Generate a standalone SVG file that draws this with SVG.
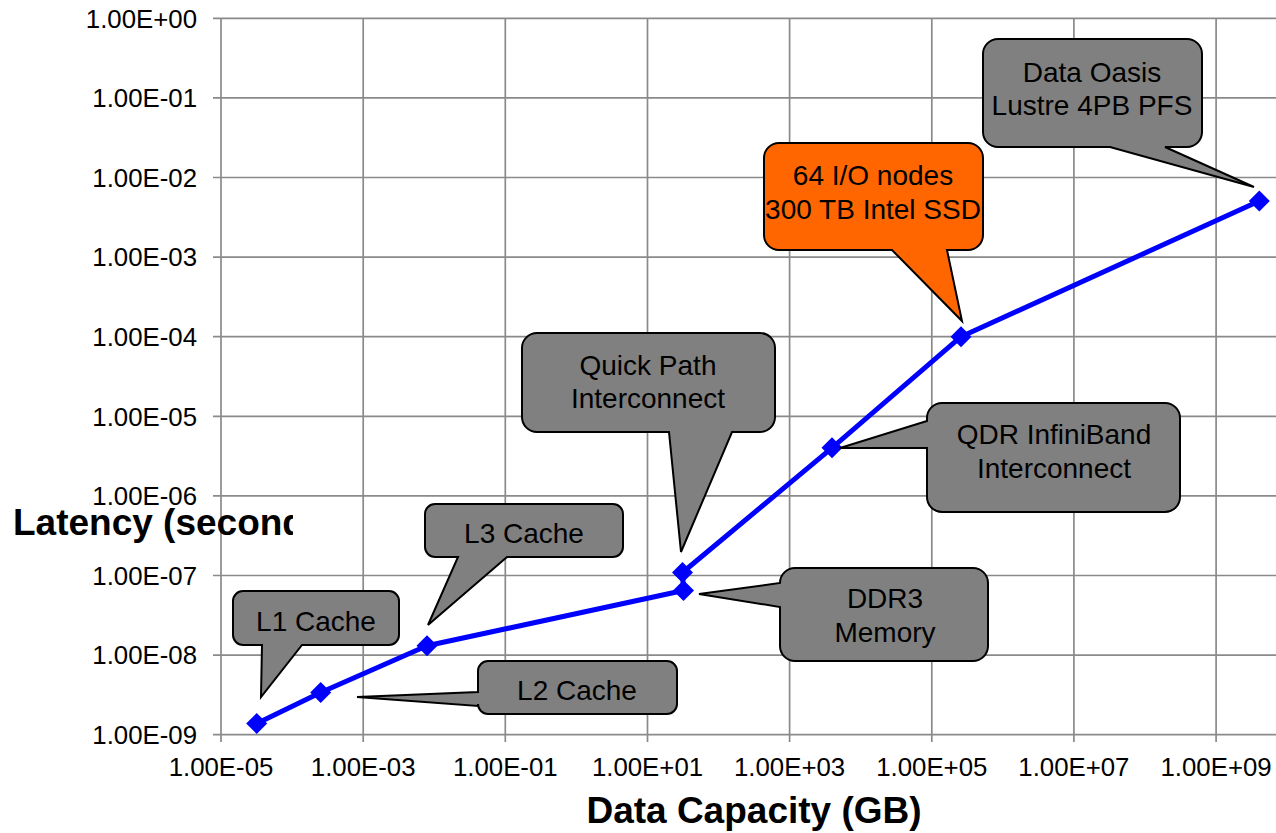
<svg xmlns="http://www.w3.org/2000/svg" width="1276" height="833" viewBox="0 0 1276 833">
  <style>
    .grid { stroke: #8a8a8a; stroke-width: 1.7; fill: none; }
    .tick { font-family: "Liberation Sans", Arial, sans-serif; font-size: 25.8px; fill: #000; }
    .title { font-family: "Liberation Sans", Arial, sans-serif; font-size: 37px; font-weight: bold; fill: #000; }
    .series { stroke: #0000ff; stroke-width: 5; fill: none; stroke-linejoin: round; }
    .callout { fill: #808080; stroke: #000; stroke-width: 2; stroke-linejoin: miter; }
    .callout.hot { fill: #ff6600; }
    .label { font-family: "Liberation Sans", Arial, sans-serif; font-size: 28px; fill: #000; text-anchor: middle; }
  </style>
  <defs>
    <clipPath id="ytitle-clip"><rect x="0" y="480" width="293" height="80"/></clipPath>
    <path id="diamond" d="M0,-10.5 L10.5,0 L0,10.5 L-10.5,0 Z" fill="#0000ff"/>
  </defs>
  <rect width="1276" height="833" fill="#ffffff"/>

  <!-- grid, axes and ticks -->
  <g id="grid">
    <path class="grid" d="M213,18.3 H1276 M213,97.9 H1276 M213,177.5 H1276 M213,257.1 H1276 M213,336.7 H1276 M213,416.3 H1276 M213,495.9 H1276 M213,575.5 H1276 M213,655.1 H1276 M213,734.7 H1276"/>
    <path class="grid" d="M221,18.3 V742 M363.2,18.3 V742 M505.3,18.3 V742 M647.5,18.3 V742 M789.6,18.3 V742 M931.8,18.3 V742 M1073.9,18.3 V742 M1216.1,18.3 V742"/>
  </g>

  <g id="y-axis-labels" class="tick" text-anchor="end">
    <text x="197" y="27.6">1.00E+00</text>
    <text x="197" y="107.2">1.00E-01</text>
    <text x="197" y="186.8">1.00E-02</text>
    <text x="197" y="266.4">1.00E-03</text>
    <text x="197" y="346">1.00E-04</text>
    <text x="197" y="425.6">1.00E-05</text>
    <text x="197" y="505.2">1.00E-06</text>
    <text x="197" y="584.8">1.00E-07</text>
    <text x="197" y="664.4">1.00E-08</text>
    <text x="197" y="744">1.00E-09</text>
  </g>

  <g id="x-axis-labels" class="tick" text-anchor="middle">
    <text x="221" y="776">1.00E-05</text>
    <text x="363.2" y="776">1.00E-03</text>
    <text x="505.3" y="776">1.00E-01</text>
    <text x="647.5" y="776">1.00E+01</text>
    <text x="789.6" y="776">1.00E+03</text>
    <text x="931.8" y="776">1.00E+05</text>
    <text x="1073.9" y="776">1.00E+07</text>
    <text x="1216.1" y="776">1.00E+09</text>
  </g>

  <g id="axis-titles">
    <text class="title" x="13" y="535" clip-path="url(#ytitle-clip)">Latency (seconds)</text>
    <text class="title" x="754" y="823" text-anchor="middle">Data Capacity (GB)</text>
  </g>

  <!-- latency vs capacity series -->
  <g id="connectors">
    <polyline class="series" points="256.7,723.5 320.7,692.5 427,645.8 683.5,590.5 682.5,572.5 832,447.8 961,336.7 1259.3,201"/>
  </g>
  <g id="markers">
    <use href="#diamond" x="256.7" y="723.5"/>
    <use href="#diamond" x="320.7" y="692.5"/>
    <use href="#diamond" x="427" y="645.8"/>
    <use href="#diamond" x="683.5" y="590.5"/>
    <use href="#diamond" x="682.5" y="572.5"/>
    <use href="#diamond" x="832" y="447.8"/>
    <use href="#diamond" x="961" y="336.7"/>
    <use href="#diamond" x="1259.3" y="201"/>
  </g>

  <!-- callouts -->
  <g id="l1-cache">
    <path class="callout" d="M243,591 H389 A10,10 0 0 1 399,601 V635 A10,10 0 0 1 389,645 H302 L261,697 L262,645 H243 A10,10 0 0 1 233,635 V601 A10,10 0 0 1 243,591 Z"/>
    <text class="label" x="316" y="631">L1 Cache</text>
  </g>
  <g id="l2-cache">
    <path class="callout" d="M488,661 H667 A10,10 0 0 1 677,671 V704 A10,10 0 0 1 667,714 H488 A10,10 0 0 1 478,704 V706 L357,697 L478,692 V671 A10,10 0 0 1 488,661 Z"/>
    <text class="label" x="577" y="700">L2 Cache</text>
  </g>
  <g id="l3-cache">
    <path class="callout" d="M435,504 H613 A10,10 0 0 1 623,514 V547 A10,10 0 0 1 613,557 H507 L428,625 L458,557 H435 A10,10 0 0 1 425,547 V514 A10,10 0 0 1 435,504 Z"/>
    <text class="label" x="524" y="543">L3 Cache</text>
  </g>
  <g id="quick-path">
    <path class="callout" d="M537,333 H760 A15,15 0 0 1 775,348 V417 A15,15 0 0 1 760,432 H732 L681,552 L669,432 H537 A15,15 0 0 1 522,417 V348 A15,15 0 0 1 537,333 Z"/>
    <text class="label" x="648" y="375">Quick Path</text>
    <text class="label" x="648" y="408">Interconnect</text>
  </g>
  <g id="ddr3-memory">
    <path class="callout" d="M795,568 H973 A15,15 0 0 1 988,583 V646 A15,15 0 0 1 973,661 H795 A15,15 0 0 1 780,646 V607 L699,594 L780,583 V583 A15,15 0 0 1 795,568 Z"/>
    <text class="label" x="885" y="608">DDR3</text>
    <text class="label" x="885" y="642">Memory</text>
  </g>
  <g id="qdr-infiniband">
    <path class="callout" d="M942,403 H1165 A15,15 0 0 1 1180,418 V497 A15,15 0 0 1 1165,512 H942 A15,15 0 0 1 927,497 V448 L840,448 L927,421 V418 A15,15 0 0 1 942,403 Z"/>
    <text class="label" x="1054" y="444">QDR InfiniBand</text>
    <text class="label" x="1054" y="478">Interconnect</text>
  </g>
  <g id="io-nodes-ssd">
    <path class="callout hot" d="M779,143 H968 A15,15 0 0 1 983,158 V235 A15,15 0 0 1 968,250 H947 L962,321 L892,250 H779 A15,15 0 0 1 764,235 V158 A15,15 0 0 1 779,143 Z"/>
    <text class="label" x="873" y="185">64 I/O nodes</text>
    <text class="label" x="873" y="219">300 TB Intel SSD</text>
  </g>
  <g id="data-oasis">
    <path class="callout" d="M998,39 H1187 A15,15 0 0 1 1202,54 V132 A15,15 0 0 1 1187,147 H1165 L1254,187 L1110,147 H998 A15,15 0 0 1 983,132 V54 A15,15 0 0 1 998,39 Z"/>
    <text class="label" x="1092" y="82">Data Oasis</text>
    <text class="label" x="1092" y="115">Lustre 4PB PFS</text>
  </g>
</svg>
